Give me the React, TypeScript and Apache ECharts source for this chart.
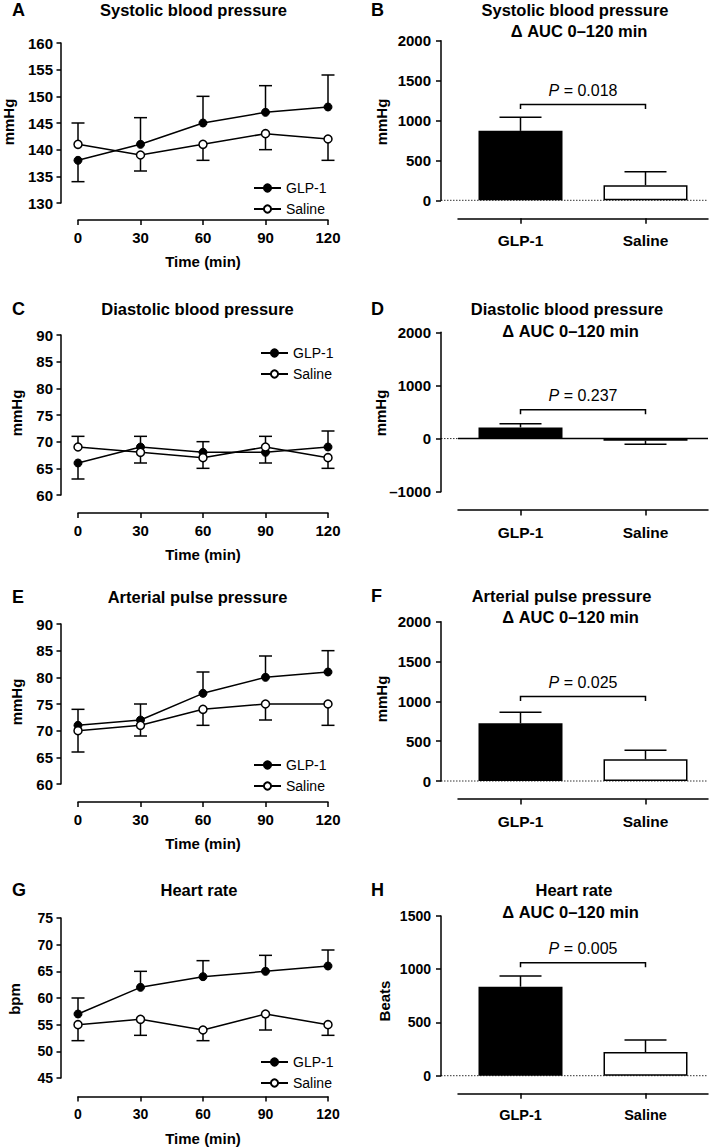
import React, { useEffect, useRef } from "react";
import * as echarts from "echarts";

// ---------- data ----------
const timePoints = [0, 30, 60, 90, 120];
const groups = ["GLP-1", "Saline"];

// Systolic blood pressure (mmHg), mean and error-bar end
const sbpGlp = [138, 141, 145, 147, 148];
const sbpGlpErr = [134, 146, 150, 152, 154];
const sbpSal = [141, 139, 141, 143, 142];
const sbpSalErr = [145, 136, 138, 140, 138];
const sbpAuc = [870, 190];
const sbpAucErr = [1040, 357];

// Diastolic blood pressure (mmHg)
const dbpGlp = [66, 69, 68, 68, 69];
const dbpGlpErr = [63, 71, 70, 66, 72];
const dbpSal = [69, 68, 67, 69, 67];
const dbpSalErr = [71, 66, 65, 71, 65];
const dbpAuc = [210, -40];
const dbpAucErr = [280, -105];

// Arterial pulse pressure (mmHg)
const ppGlp = [71, 72, 77, 80, 81];
const ppGlpErr = [74, 75, 81, 84, 85];
const ppSal = [70, 71, 74, 75, 75];
const ppSalErr = [66, 69, 71, 72, 71];
const ppAuc = [724, 272];
const ppAucErr = [862, 385];

// Heart rate (bpm)
const hrGlp = [57, 62, 64, 65, 66];
const hrGlpErr = [60, 65, 67, 68, 69];
const hrSal = [55, 56, 54, 57, 55];
const hrSalErr = [52, 53, 52, 54, 53];
const hrAuc = [836, 222];
const hrAucErr = [936, 335];

const pValues = ["0.018", "0.237", "0.025", "0.005"];
const bracketLevels = [1200, 540, 1060, 1060];

const FONT = "'Liberation Sans', Arial, Helvetica, sans-serif";
const BLACK = "#000";

const linePanels = [
  { letter: "A", title: "Systolic blood pressure", yName: "mmHg", min: 130, max: 160,
    glp: sbpGlp, glpErr: sbpGlpErr, sal: sbpSal, salErr: sbpSalErr,
    top: 43, xOffset: 17, legendLeft: 253, legendTop: 181, titleX: 193.5, titleY: 10, nameX: 8.7, nameY: 122, fs: 15 },
  { letter: "C", title: "Diastolic blood pressure", yName: "mmHg", min: 60, max: 90,
    glp: dbpGlp, glpErr: dbpGlpErr, sal: dbpSal, salErr: dbpSalErr,
    top: 335, xOffset: 18, legendLeft: 260, legendTop: 346, titleX: 197.5, titleY: 309, nameX: 16, nameY: 413, fs: 15 },
  { letter: "E", title: "Arterial pulse pressure", yName: "mmHg", min: 60, max: 90,
    glp: ppGlp, glpErr: ppGlpErr, sal: ppSal, salErr: ppSalErr,
    top: 624, xOffset: 18, legendLeft: 253, legendTop: 758, titleX: 197.5, titleY: 597, nameX: 16, nameY: 702, fs: 15 },
  { letter: "G", title: "Heart rate", yName: "bpm", min: 45, max: 75,
    glp: hrGlp, glpErr: hrGlpErr, sal: hrSal, salErr: hrSalErr,
    top: 918, xOffset: 18.5, legendLeft: 260, legendTop: 1055, titleX: 199, titleY: 890, nameX: 14, nameY: 999, fs: 14 },
];

const barPanels = [
  { letter: "B", title: "Systolic blood pressure", yName: "mmHg", min: 0, max: 2000, interval: 500,
    auc: sbpAuc, aucErr: sbpAucErr, top: 40.7, height: 159.6, xOffset: 18,
    t1x: 575, t2x: 579, t1y: 10, t2y: 31, nameX: 381.5, nameY: 122, solidZero: false, fs: 15 },
  { letter: "D", title: "Diastolic blood pressure", yName: "mmHg", min: -1000, max: 2000, interval: 1000,
    auc: dbpAuc, aucErr: dbpAucErr, top: 332.3, height: 159.4, xOffset: 18.3,
    t1x: 567, t2x: 570.5, t1y: 309, t2y: 331, nameX: 380.7, nameY: 413, solidZero: true, fs: 15 },
  { letter: "F", title: "Arterial pulse pressure", yName: "mmHg", min: 0, max: 2000, interval: 500,
    auc: ppAuc, aucErr: ppAucErr, top: 621.7, height: 159.3, xOffset: 18,
    t1x: 561.5, t2x: 570.5, t1y: 596, t2y: 617, nameX: 381.5, nameY: 699, solidZero: false, fs: 15 },
  { letter: "H", title: "Heart rate", yName: "Beats", min: 0, max: 1500, interval: 500,
    auc: hrAuc, aucErr: hrAucErr, top: 916, height: 159.7, xOffset: 17.6,
    t1x: 574, t2x: 570.5, t1y: 890, t2y: 912, nameX: 384.8, nameY: 1001, solidZero: false, fs: 14 },
];

const plainNumber = (v: number) => (v < 0 ? "\u2013" + Math.abs(v) : String(v));

function errorRenderer(capHalf: number) {
  return (params: any, api: any) => {
    const x = api.value(0);
    const y = api.value(1);
    const e = api.value(2);
    const p0 = api.coord([x, y]);
    const p1 = api.coord([x, e]);
    const st = { stroke: BLACK, lineWidth: 1.5 };
    return {
      type: "group",
      children: [
        { type: "line", shape: { x1: p0[0], y1: p0[1], x2: p1[0], y2: p1[1] }, style: st },
        { type: "line", shape: { x1: p1[0] - capHalf, y1: p1[1], x2: p1[0] + capHalf, y2: p1[1] }, style: st },
      ],
    };
  };
}

function buildOption() {
  const grid: any[] = [];
  const xAxis: any[] = [];
  const yAxis: any[] = [];
  const series: any[] = [];
  const legend: any[] = [];
  const graphic: any[] = [];

  const axisLine = { show: true, onZero: false, lineStyle: { color: BLACK, width: 1.5 } };
  const tickStyle = { color: BLACK, width: 1.5 };

  const letterText = (t: string, x: number, y: number) => ({
    type: "text", x, y,
    style: { text: t, font: `bold 18px ${FONT}`, fill: BLACK, align: "left", verticalAlign: "middle" },
  });
  const titleText = (t: string, x: number, y: number) => ({
    type: "text", x, y,
    style: { text: t, font: `bold 16.5px ${FONT}`, fill: BLACK, align: "center", verticalAlign: "middle" },
  });
  const yNameText = (t: string, x: number, y: number) => ({
    type: "text", x, y, rotation: Math.PI / 2,
    style: { text: t, font: `bold 15px ${FONT}`, fill: BLACK, align: "center", verticalAlign: "middle" },
  });

  linePanels.forEach((p, i) => {
    const gi = grid.length;
    grid.push({ left: 78, width: 250, top: p.top, height: 160 });
    xAxis.push({
      gridIndex: gi, type: "value", min: 0, max: 120, interval: 30, offset: p.xOffset,
      axisLine, axisTick: { show: true, length: 5, lineStyle: tickStyle },
      axisLabel: { margin: 10, color: BLACK, fontWeight: "bold", fontSize: p.fs, fontFamily: FONT, formatter: plainNumber },
      splitLine: { show: false },
      name: "Time (min)", nameLocation: "middle", nameGap: 34,
      nameTextStyle: { color: BLACK, fontWeight: "bold", fontSize: 15, fontFamily: FONT },
    });
    yAxis.push({
      gridIndex: gi, type: "value", min: p.min, max: p.max, interval: 5, offset: 17,
      axisLine, axisTick: { show: true, length: 4.5, lineStyle: tickStyle },
      axisLabel: { margin: 8, color: BLACK, fontWeight: "bold", fontSize: p.fs, fontFamily: FONT, formatter: plainNumber },
      splitLine: { show: false },
    });
    const mk = (v: number[], e: number[]) => timePoints.map((t, k) => [t, v[k], e[k]]);
    series.push({
      type: "custom", name: "err-glp-" + i, xAxisIndex: gi, yAxisIndex: gi, z: 1,
      renderItem: errorRenderer(6.5), data: mk(p.glp, p.glpErr), encode: { x: 0, y: 1 },
    });
    series.push({
      type: "custom", name: "err-sal-" + i, xAxisIndex: gi, yAxisIndex: gi, z: 1,
      renderItem: errorRenderer(6.5), data: mk(p.sal, p.salErr), encode: { x: 0, y: 1 },
    });
    series.push({
      type: "line", name: "GLP-1", xAxisIndex: gi, yAxisIndex: gi, z: 3,
      data: timePoints.map((t, k) => [t, p.glp[k]]),
      symbol: "circle", symbolSize: 8,
      lineStyle: { color: BLACK, width: 1.5 },
      itemStyle: { color: BLACK, borderColor: BLACK, borderWidth: 1 },
    });
    series.push({
      type: "line", name: "Saline", xAxisIndex: gi, yAxisIndex: gi, z: 4,
      data: timePoints.map((t, k) => [t, p.sal[k]]),
      symbol: "circle", symbolSize: 8,
      lineStyle: { color: BLACK, width: 1.5 },
      itemStyle: { color: "#fff", borderColor: BLACK, borderWidth: 1.5 },
    });
    legend.push({
      data: groups, orient: "vertical", left: p.legendLeft, top: p.legendTop,
      itemWidth: 27, itemHeight: 9, itemGap: 7, padding: 0,
      textStyle: { color: BLACK, fontSize: 14, fontFamily: FONT, lineHeight: 14 },
      selectedMode: false,
    });
    graphic.push(letterText(p.letter, 12, p.titleY));
    graphic.push(titleText(p.title, p.titleX, p.titleY));
    graphic.push(yNameText(p.yName, p.nameX, p.nameY));
  });

  barPanels.forEach((p, i) => {
    const gi = grid.length;
    grid.push({ left: 458, width: 250, top: p.top, height: p.height });
    xAxis.push({
      gridIndex: gi, type: "category", data: groups, offset: p.xOffset, boundaryGap: true,
      axisLine, axisTick: { show: true, alignWithLabel: true, length: 5.5, lineStyle: tickStyle },
      axisLabel: { margin: 14, color: BLACK, fontWeight: "bold", fontSize: p.fs + 0.5, fontFamily: FONT },
      splitLine: { show: false },
    });
    yAxis.push({
      gridIndex: gi, type: "value", min: p.min, max: p.max, interval: p.interval, offset: 17,
      axisLine, axisTick: { show: true, length: 5, lineStyle: tickStyle },
      axisLabel: { margin: 10, color: BLACK, fontWeight: "bold", fontSize: p.fs, fontFamily: FONT, formatter: plainNumber },
      splitLine: { show: false },
    });
    const solid = p.solidZero;
    series.push({
      type: "custom", name: "zero-" + i, xAxisIndex: gi, yAxisIndex: gi, z: 0,
      data: [[0, 0]],
      renderItem: (params: any, api: any) => {
        const cs = params.coordSys;
        const y = api.coord([0, 0])[1];
        const dotted = { stroke: "#333", lineWidth: 1, lineDash: [1.5, 1.5] };
        const children: any[] = [];
        if (solid) {
          children.push({ type: "line", shape: { x1: cs.x - 17, y1: y, x2: cs.x, y2: y }, style: dotted });
          children.push({ type: "line", shape: { x1: cs.x, y1: y, x2: cs.x + cs.width, y2: y }, style: { stroke: BLACK, lineWidth: 1.5 } });
        } else {
          children.push({ type: "line", shape: { x1: cs.x - 17, y1: y, x2: cs.x + cs.width, y2: y }, style: dotted });
        }
        return { type: "group", children };
      },
    });
    series.push({
      type: "bar", name: "auc-" + i, xAxisIndex: gi, yAxisIndex: gi, z: 2, barWidth: 84,
      data: p.auc.map((v, k) => ({ value: v, itemStyle: { color: k === 0 ? BLACK : "#fff" } })),
      itemStyle: { borderColor: BLACK, borderWidth: 1.5 },
    });
    series.push({
      type: "custom", name: "auc-err-" + i, xAxisIndex: gi, yAxisIndex: gi, z: 1,
      renderItem: errorRenderer(21),
      data: p.auc.map((v, k) => [k, v, p.aucErr[k]]), encode: { x: 0, y: 1 },
    });
    const pv = pValues[i];
    series.push({
      type: "custom", name: "bracket-" + i, xAxisIndex: gi, yAxisIndex: gi, z: 3,
      data: [[0, bracketLevels[i]]],
      renderItem: (params: any, api: any) => {
        const lvl = api.value(1);
        const a = api.coord([0, lvl]);
        const b = api.coord([1, lvl]);
        return {
          type: "group",
          children: [
            { type: "polyline", shape: { points: [[a[0], a[1] + 4.5], [a[0], a[1]], [b[0], b[1]], [b[0], b[1] + 4.5]] },
              style: { stroke: BLACK, lineWidth: 1.5, fill: null } },
            { type: "text", x: (a[0] + b[0]) / 2, y: a[1] - 14.5,
              style: {
                text: "{i|P} = " + pv,
                rich: { i: { fontStyle: "italic", fontSize: 16, fontFamily: FONT, fill: BLACK } },
                fontSize: 16, fontFamily: FONT, fill: BLACK, align: "center", verticalAlign: "middle",
              } },
          ],
        };
      },
    });
    graphic.push(letterText(p.letter, 371, p.t1y));
    graphic.push(titleText(p.title, p.t1x, p.t1y));
    graphic.push(titleText("Δ AUC 0–120 min", p.t2x, p.t2y));
    graphic.push(yNameText(p.yName, p.nameX, p.nameY));
  });

  return {
    animation: false,
    backgroundColor: "#fff",
    textStyle: { fontFamily: FONT },
    grid, xAxis, yAxis, series, legend, graphic,
  };
}

export default function App() {
  const ref = useRef<HTMLDivElement>(null);
  useEffect(() => {
    if (!ref.current) return;
    const chart = echarts.init(ref.current, undefined, { renderer: "svg" });
    chart.setOption(buildOption() as any);
    return () => chart.dispose();
  }, []);
  return (
    <div
      ref={ref}
      style={{ position: "absolute", left: 0, top: 0, width: 709, height: 1147, background: "#fff" }}
    />
  );
}
